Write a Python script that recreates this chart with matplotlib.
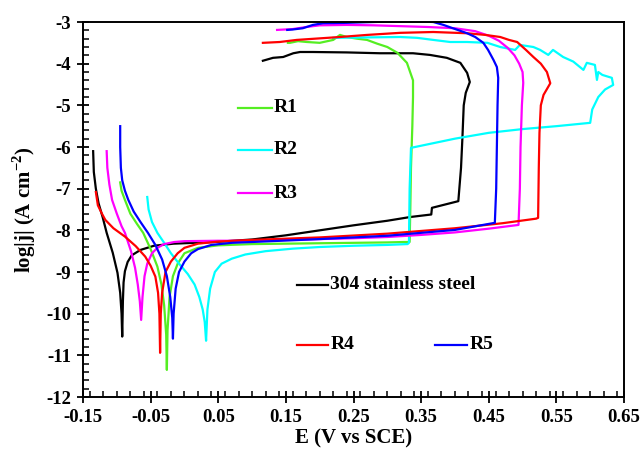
import matplotlib
matplotlib.use("Agg")
import matplotlib.pyplot as plt
from matplotlib.ticker import MultipleLocator, FixedLocator

# ---------------- data (E in V vs SCE, log|j|) ----------------
ss_x = [-0.135, -0.134, -0.131, -0.127, -0.121, -0.115, -0.106, -0.099, -0.095, -0.093, -0.092,
        -0.091, -0.090, -0.088, -0.084, -0.078, -0.065, -0.045, -0.016, 0.044, 0.10, 0.15, 0.20, 0.25, 0.30,
        0.334, 0.365, 0.366, 0.405, 0.409, 0.411, 0.413, 0.416, 0.422, 0.418, 0.408, 0.388, 0.363,
        0.338, 0.289, 0.240, 0.190, 0.171, 0.161, 0.146, 0.131, 0.116]
ss_y = [-6.10, -6.60, -7.00, -7.35, -7.68, -8.06, -8.54, -9.02, -9.50, -10.00, -10.55,
        -9.70, -9.25, -8.98, -8.76, -8.60, -8.47, -8.37, -8.32, -8.28, -8.22, -8.12, -8.00, -7.88, -7.77,
        -7.68, -7.62, -7.46, -7.30, -6.50, -5.80, -5.00, -4.70, -4.44, -4.22, -3.98, -3.86, -3.79,
        -3.75, -3.75, -3.73, -3.72, -3.72, -3.75, -3.84, -3.86, -3.93]

r1_x = [-0.095, -0.093, -0.088, -0.080, -0.070, -0.061, -0.050, -0.040, -0.034, -0.030, -0.027, -0.026,
        -0.025, -0.022, -0.017, -0.010, 0.000, 0.020, 0.050, 0.100, 0.150, 0.200, 0.250, 0.300, 0.325,
        0.333, 0.334, 0.335, 0.337, 0.338, 0.338, 0.329, 0.315, 0.300, 0.285, 0.270, 0.255, 0.240,
        0.230, 0.220, 0.200, 0.181, 0.168, 0.156, 0.153]
r1_y = [-6.85, -7.05, -7.27, -7.60, -7.85, -8.06, -8.45, -8.87, -9.30, -9.80, -10.50, -11.35,
        -10.40, -9.60, -9.10, -8.80, -8.55, -8.42, -8.36, -8.33, -8.32, -8.31, -8.30, -8.29, -8.28,
        -8.28, -7.50, -6.50, -5.50, -4.80, -4.40, -3.98, -3.74, -3.60, -3.52, -3.43, -3.40, -3.36,
        -3.31, -3.43, -3.50, -3.48, -3.46, -3.50, -3.50]

r2_x = [-0.055, -0.053, -0.048, -0.040, -0.030, -0.020, -0.008, 0.005, 0.015, 0.022, 0.027, 0.030, 0.032,
        0.034, 0.038, 0.045, 0.055, 0.070, 0.090, 0.120, 0.160, 0.200, 0.250, 0.300, 0.330, 0.332,
        0.333, 0.335, 0.341, 0.400, 0.450, 0.500, 0.550, 0.600,
        0.603, 0.612, 0.622, 0.634, 0.632, 0.618, 0.612, 0.610, 0.607, 0.595, 0.590, 0.575, 0.560,
        0.545, 0.538, 0.526, 0.516, 0.496, 0.489, 0.467, 0.448, 0.418, 0.393, 0.368, 0.344, 0.319,
        0.270, 0.220]
r2_y = [-7.20, -7.50, -7.80, -8.06, -8.30, -8.55, -8.80, -9.05, -9.30, -9.60, -9.90, -10.20, -10.65,
        -9.90, -9.40, -9.00, -8.80, -8.68, -8.58, -8.50, -8.44, -8.40, -8.37, -8.35, -8.33, -8.30,
        -7.00, -6.02, -6.00, -5.80, -5.66, -5.57, -5.50, -5.42,
        -5.10, -4.80, -4.62, -4.51, -4.34, -4.27, -4.20, -4.39, -4.03, -3.98, -4.15, -3.95, -3.84,
        -3.67, -3.79, -3.67, -3.60, -3.55, -3.67, -3.60, -3.50, -3.48, -3.48, -3.43, -3.38, -3.36,
        -3.37, -3.38]

r3_x = [-0.115, -0.114, -0.111, -0.107, -0.100, -0.093, -0.088, -0.079, -0.073, -0.069, -0.066, -0.064,
        -0.062, -0.059, -0.055, -0.048, -0.040, -0.030, -0.015, 0.000, 0.050, 0.100, 0.150, 0.200,
        0.250, 0.300, 0.350, 0.400, 0.450, 0.494, 0.496, 0.497, 0.499, 0.501, 0.500, 0.495, 0.488,
        0.478, 0.465, 0.450, 0.430, 0.400, 0.360, 0.320, 0.280, 0.240, 0.200, 0.180, 0.160, 0.137]
r3_y = [-6.10, -6.50, -6.90, -7.27, -7.60, -7.90, -8.06, -8.50, -8.90, -9.30, -9.70, -10.15,
        -9.60, -9.10, -8.80, -8.55, -8.42, -8.33, -8.28, -8.26, -8.25, -8.25, -8.23, -8.21,
        -8.19, -8.16, -8.11, -8.05, -7.96, -7.87, -7.00, -6.00, -5.00, -4.46, -4.20, -4.00, -3.80,
        -3.62, -3.45, -3.33, -3.22, -3.15, -3.12, -3.10, -3.08, -3.07, -3.08, -3.12, -3.17, -3.19]

r4_x = [-0.131, -0.128, -0.122, -0.117, -0.105, -0.088, -0.072, -0.058, -0.050, -0.043, -0.039, -0.037, -0.036,
        -0.035, -0.033, -0.028, -0.020, -0.010, 0.000, 0.020, 0.050, 0.100, 0.200, 0.300, 0.400, 0.470,
        0.520, 0.523, 0.524, 0.525, 0.527, 0.531, 0.541, 0.536, 0.527, 0.516, 0.505, 0.492, 0.480,
        0.467, 0.445, 0.418, 0.368, 0.319, 0.270, 0.230, 0.166, 0.141, 0.116]
r4_y = [-7.08, -7.40, -7.60, -7.75, -7.95, -8.15, -8.38, -8.63, -8.85, -9.11, -9.50, -10.00, -10.94,
        -10.00, -9.50, -9.00, -8.75, -8.55, -8.42, -8.32, -8.27, -8.23, -8.17, -8.08, -7.95, -7.83,
        -7.72, -7.70, -6.50, -5.66, -5.00, -4.75, -4.47, -4.20, -4.00, -3.84, -3.67, -3.48, -3.43,
        -3.36, -3.31, -3.27, -3.24, -3.26, -3.31, -3.36, -3.43, -3.48, -3.50]

r5_x = [-0.095, -0.095, -0.094, -0.092, -0.088, -0.083, -0.075, -0.065, -0.054, -0.043, -0.033, -0.026,
        -0.021, -0.018, -0.017,
        -0.016, -0.013, -0.008, 0.000, 0.010, 0.020, 0.040, 0.070, 0.100, 0.200, 0.300, 0.400, 0.459,
        0.461, 0.462, 0.463, 0.464, 0.462, 0.457, 0.449, 0.442, 0.430, 0.418, 0.397, 0.383, 0.368,
        0.330, 0.280, 0.240, 0.205, 0.190, 0.175, 0.160, 0.152]
r5_y = [-5.50, -6.00, -6.50, -6.80, -7.05, -7.27, -7.55, -7.80, -8.06, -8.35, -8.70, -9.10,
        -9.60, -10.10, -10.60,
        -10.00, -9.40, -9.00, -8.75, -8.55, -8.45, -8.35, -8.30, -8.28, -8.21, -8.13, -7.99, -7.82,
        -7.00, -6.00, -5.00, -4.34, -4.08, -3.91, -3.67, -3.50, -3.36, -3.27, -3.15, -3.07, -3.00,
        -2.98, -3.00, -3.02, -3.03, -3.07, -3.15, -3.18, -3.19]

series = [
    ("304 stainless steel", ss_x, ss_y, "#000000"),
    ("R1", r1_x, r1_y, "#55ee22"),
    ("R2", r2_x, r2_y, "#00ffff"),
    ("R3", r3_x, r3_y, "#ff00ff"),
    ("R4", r4_x, r4_y, "#ff0000"),
    ("R5", r5_x, r5_y, "#0000ff"),
]

xticks = [-0.15, -0.05, 0.05, 0.15, 0.25, 0.35, 0.45, 0.55, 0.65]
yticks = [-12, -11, -10, -9, -8, -7, -6, -5, -4, -3]

# ---------------- figure ----------------
plt.rcParams["font.family"] = ["Liberation Serif", "DejaVu Serif"]
plt.rcParams["font.weight"] = "bold"
plt.rcParams["mathtext.fontset"] = "custom"
plt.rcParams["mathtext.rm"] = "Liberation Serif:bold"
plt.rcParams["mathtext.bf"] = "Liberation Serif:bold"

fig = plt.figure(figsize=(6.44, 4.61), dpi=100)
ax = fig.add_axes([83 / 644, 1 - 397 / 461, (624 - 83) / 644, (397 - 22) / 461])

colors = {}
for name, xs, ys, col in series:
    ax.plot(xs, ys, color=col, lw=1.6, solid_joinstyle="round")
    colors[name] = col

ax.set_xlim(-0.15, 0.65)
ax.set_ylim(-12, -3)
ax.xaxis.set_major_locator(FixedLocator(xticks))
ax.yaxis.set_major_locator(FixedLocator(yticks))
ax.xaxis.set_minor_locator(MultipleLocator(0.02))
ax.yaxis.set_minor_locator(MultipleLocator(0.2))
ax.set_xticklabels([f"{v:.2f}" for v in xticks])
ax.set_yticklabels([str(v) for v in yticks])
ax.tick_params(which="major", direction="inout", length=9, width=1.3, labelsize=13.5,
               top=False, right=False, pad=4)
ax.tick_params(which="minor", direction="in", length=4.5, width=1.1, top=False, right=False)
for lab in ax.get_xticklabels() + ax.get_yticklabels():
    lab.set_fontweight("bold")
for s in ax.spines.values():
    s.set_linewidth(1.4)

ax.set_xlabel("E (V vs SCE)", fontsize=15, fontweight="bold", labelpad=2)
ax.set_ylabel(r"log|j| (A cm$^{-2}$)", fontsize=15, fontweight="bold", labelpad=6)

# in-plot legend entries (axes-fraction positions)
legend_items = [
    ("R1", 0.287, 0.349, 0.771),
    ("R2", 0.287, 0.349, 0.659),
    ("R3", 0.287, 0.349, 0.544),
    ("304 stainless steel", 0.396, 0.453, 0.299),
    ("R4", 0.396, 0.453, 0.139),
    ("R5", 0.651, 0.710, 0.139),
]
for name, x0, x1, yy in legend_items:
    ax.plot([x0, x1], [yy, yy], transform=ax.transAxes, color=colors[name], lw=1.6)
    ax.text(x1 + 0.004, yy, name, transform=ax.transAxes, fontsize=14, fontweight="bold",
            va="center", ha="left")

fig.savefig("out.png", dpi=100)
